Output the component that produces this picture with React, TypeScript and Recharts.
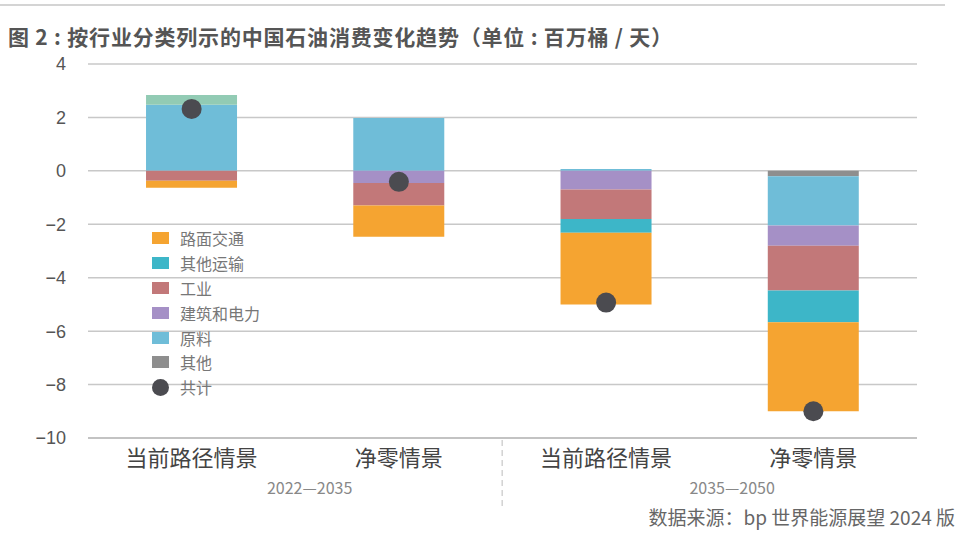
import React from 'react';
import { ComposedChart, Bar, Scatter, XAxis, YAxis, CartesianGrid, Legend } from 'recharts';

const periods = ['2022—2035', '2022—2035', '2035—2050', '2035—2050'];
const scenarios = ['当前路径情景', '净零情景', '当前路径情景', '净零情景'];

const roadTransport = [-0.26, -1.17, -2.68, -3.33];
const otherTransport = [0, 0, -0.52, -1.19];
const industry = [-0.37, -0.85, -1.1, -1.68];
const buildingsPower = [0, -0.45, -0.7, -0.75];
const feedstock = [2.47, 1.98, 0.07, -1.85];
const other = [0.37, 0, 0, -0.2];
const total = [2.32, -0.41, -4.93, -9.0];

const yTicks = [4, 2, 0, -2, -4, -6, -8, -10];

const COLORS = {
  road: '#f5a431',
  otherTransport: '#3db6c8',
  industry: '#c27879',
  buildings: '#a590c6',
  feedstock: '#6fbdd8',
  other: '#8e8e8e',
  otherPos: '#92cbb4',
  total: '#4b4b50',
};

const legendItems = [
  { label: '路面交通', color: COLORS.road, type: 'rect' },
  { label: '其他运输', color: COLORS.otherTransport, type: 'rect' },
  { label: '工业', color: COLORS.industry, type: 'rect' },
  { label: '建筑和电力', color: COLORS.buildings, type: 'rect' },
  { label: '原料', color: COLORS.feedstock, type: 'rect' },
  { label: '其他', color: COLORS.other, type: 'rect' },
  { label: '共计', color: COLORS.total, type: 'circle' },
];

const data = scenarios.map((s, i) => ({
  key: `${i}`,
  scenario: s,
  period: periods[i],
  road: roadTransport[i],
  otherTransport: otherTransport[i],
  industry: industry[i],
  buildings: buildingsPower[i],
  feedstock: feedstock[i],
  otherNeg: Math.min(other[i], 0),
  otherPos: Math.max(other[i], 0),
  total: total[i],
}));

const FONT = '"Noto Sans CJK SC", "Noto Sans", sans-serif';

const CategoryTick = (props: any) => {
  const { x, y, payload } = props;
  const i = Number(payload.value);
  return (
    <g>
      <text x={x} y={y} dy={20} textAnchor="middle" fontSize={22} fill="#444" fontFamily={FONT}>
        {scenarios[i]}
      </text>
      {i % 2 === 0 && (
        <text x={x + (i === 0 ? 118 : 126)} y={y} dy={48} textAnchor="middle" fontSize={16} fill="#888" fontFamily={FONT}>
          {periods[i]}
        </text>
      )}
      {i === 2 && (
        <line x1={x - 104} x2={x - 104} y1={y - 6} y2={y + 64} stroke="#bbb" strokeWidth={1} strokeDasharray="6 4" />
      )}
    </g>
  );
};

const Dot = (props: any) => {
  const { cx, cy } = props;
  return <circle cx={cx} cy={cy} r={10} fill={COLORS.total} />;
};

const LegendContent = () => (
  <div style={{ fontFamily: FONT }}>
    {legendItems.map((it) => (
      <div key={it.label} style={{ display: 'flex', alignItems: 'center', height: 24.8 }}>
        {it.type === 'rect' ? (
          <span style={{ display: 'inline-block', width: 17, height: 12, background: it.color, marginLeft: 1 }} />
        ) : (
          <span style={{ display: 'inline-block', width: 17, height: 17, borderRadius: '50%', background: it.color, marginLeft: 1 }} />
        )}
        <span style={{ marginLeft: 11, fontSize: 16, color: '#777' }}>{it.label}</span>
      </div>
    ))}
  </div>
);

export default function App() {
  return (
    <div style={{ position: 'absolute', left: 0, top: 0, width: 960, height: 537, background: '#fff', fontFamily: FONT }}>
      <div style={{ position: 'absolute', left: 0, top: 4, width: 945, height: 2, background: '#d4d4d4' }} />
      <div
        style={{
          position: 'absolute',
          left: 8,
          top: 22,
          fontSize: 21,
          fontWeight: 700,
          color: '#555',
          whiteSpace: 'nowrap',
          lineHeight: '28px',
          letterSpacing: 0.8,
        }}
      >
        图 2 : 按行业分类列示的中国石油消费变化趋势（单位 : 百万桶 / 天）
      </div>
      <ComposedChart
        width={960}
        height={537}
        data={data}
        stackOffset="sign"
        margin={{ top: 64, right: 43, bottom: 39, left: 0 }}
        barCategoryGap="28%"
      >
        <CartesianGrid vertical={false} stroke="#c8c8c8" strokeWidth={1.5} />
        <XAxis
          dataKey="key"
          height={60}
          axisLine={{ stroke: '#bdbdbd', strokeWidth: 1.5 }}
          tickLine={false}
          tick={<CategoryTick />}
          interval={0}
        />
        <YAxis
          width={88}
          domain={[-10, 4]}
          ticks={yTicks}
          axisLine={false}
          tickLine={false}
          tickMargin={16}
          tickFormatter={(v: number) => (v < 0 ? `−${Math.abs(v)}` : `${v}`)}
          tick={{ fontSize: 18, fill: '#555', fontFamily: '"Liberation Sans", Arial, sans-serif' }}
        />
        <Legend
          verticalAlign="middle"
          align="center"
          layout="horizontal"
          content={<LegendContent />}
          wrapperStyle={{ position: 'absolute', left: 151, top: 226, width: 140 }}
        />
        <Bar dataKey="otherNeg" stackId="s" fill={COLORS.other} isAnimationActive={false} />
        <Bar dataKey="feedstock" stackId="s" fill={COLORS.feedstock} isAnimationActive={false} />
        <Bar dataKey="otherPos" stackId="s" fill={COLORS.otherPos} isAnimationActive={false} />
        <Bar dataKey="buildings" stackId="s" fill={COLORS.buildings} isAnimationActive={false} />
        <Bar dataKey="industry" stackId="s" fill={COLORS.industry} isAnimationActive={false} />
        <Bar dataKey="otherTransport" stackId="s" fill={COLORS.otherTransport} isAnimationActive={false} />
        <Bar dataKey="road" stackId="s" fill={COLORS.road} isAnimationActive={false} />
        <Scatter dataKey="total" fill={COLORS.total} shape={<Dot />} isAnimationActive={false} />
      </ComposedChart>
      <div
        style={{
          position: 'absolute',
          right: 5,
          top: 504,
          fontSize: 19,
          color: '#666',
          whiteSpace: 'nowrap',
          lineHeight: '26px',
        }}
      >
        数据来源：bp 世界能源展望 2024 版
      </div>
    </div>
  );
}
